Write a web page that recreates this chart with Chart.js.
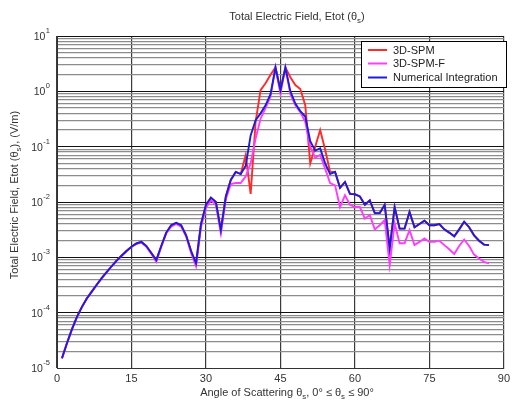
<!DOCTYPE html>
<html>
<head>
<meta charset="utf-8">
<script src="https://cdn.jsdelivr.net/npm/chart.js@4"></script>
<style>
  html, body { margin: 0; padding: 0; background: #fff; }
</style>
</head>
<body>
<canvas id="etotChart" width="514" height="403"></canvas>
<script>
/**
 * Total Electric Field vs scattering angle (log y)
 */

// angle of scattering, degrees
const angles = [
    1, 2, 3, 4, 5, 6, 7, 8, 9, 10, 11, 12, 13, 14, 15, 16, 17, 18, 19, 20,
    21, 22, 23, 24, 25, 26, 27, 28, 29, 30, 31, 32, 33, 34, 35, 36, 37, 38, 39, 40,
    41, 42, 43, 44, 45, 46, 47, 48, 49, 50, 51, 52, 53, 54, 55, 56, 57, 58, 59, 60,
    61, 62, 63, 64, 65, 66, 67, 68, 69, 70, 71, 72, 73, 74, 75, 76, 77, 78, 79, 80,
    81, 82, 83, 84, 85, 86, 87
];

// 3D-SPM (V/m)
const spm = [
    1.5e-5, 2.8e-5, 5.0e-5, 8.3e-5, 1.26e-4, 1.8e-4, 2.4e-4, 3.2e-4, 4.2e-4, 5.4e-4,
    6.9e-4, 8.7e-4, 1.07e-3, 1.3e-3, 1.55e-3, 1.78e-3, 1.9e-3, 1.6e-3, 1.2e-3, 8.9e-4,
    1.6e-3, 2.8e-3, 3.8e-3, 4.2e-3, 3.8e-3, 2.5e-3, 1.3e-3, 7.8e-4, 4.0e-3, 8.9e-3,
    0.012, 0.010, 0.0031, 0.0126, 0.025, 0.035, 0.032, 0.07, 0.014, 0.28,
    1.05, 1.4, 2.0, 2.7, 1.05, 2.7, 1.8, 1.3, 1.1, 0.56,
    0.05, 0.1, 0.2, 0.089, 0.035, 0.035, 0.018, 0.023, 0.014, 0.0138,
    0.0126, 0.0089, 0.0107, 0.0063, 0.0063, 0.0089, 0.00145, 0.0081, 0.0033, 0.0033,
    0.0066, 0.0035, 0.004, 0.0046, 0.0038, 0.0038, 0.004, 0.0032, 0.0028, 0.0024,
    0.0032, 0.0044, 0.0035, 0.0025, 0.002, 0.0017, 0.00166
];

// 3D-SPM-F (V/m)
const spmF = [
    1.5e-5, 2.8e-5, 5.0e-5, 8.3e-5, 1.26e-4, 1.8e-4, 2.4e-4, 3.2e-4, 4.2e-4, 5.4e-4,
    6.9e-4, 8.7e-4, 1.07e-3, 1.3e-3, 1.55e-3, 1.75e-3, 1.85e-3, 1.55e-3, 1.15e-3, 8.3e-4,
    1.55e-3, 2.7e-3, 3.6e-3, 4.0e-3, 3.6e-3, 2.4e-3, 1.2e-3, 6.9e-4, 3.5e-3, 7.9e-3,
    0.0107, 0.0089, 0.0027, 0.0112, 0.021, 0.022, 0.022, 0.029, 0.05, 0.14,
    0.32, 0.5, 0.8, 2.7, 0.91, 2.7, 0.89, 0.56, 0.42, 0.28,
    0.1, 0.063, 0.071, 0.04, 0.022, 0.02, 0.0081, 0.0132, 0.0089, 0.0081,
    0.0081, 0.005, 0.0058, 0.0032, 0.0038, 0.0047, 0.00072, 0.0041, 0.0018, 0.0018,
    0.0031, 0.00166, 0.0019, 0.0022, 0.0019, 0.0019, 0.002, 0.00166, 0.0014, 0.00115,
    0.0016, 0.0021, 0.0016, 0.00112, 0.00095, 0.00083, 0.00078
];

// Numerical Integration (V/m)
const numInt = [
    1.5e-5, 2.8e-5, 5.0e-5, 8.3e-5, 1.26e-4, 1.8e-4, 2.4e-4, 3.2e-4, 4.2e-4, 5.4e-4,
    6.9e-4, 8.7e-4, 1.07e-3, 1.3e-3, 1.55e-3, 1.78e-3, 1.9e-3, 1.6e-3, 1.2e-3, 8.9e-4,
    1.6e-3, 2.8e-3, 3.8e-3, 4.2e-3, 3.8e-3, 2.5e-3, 1.3e-3, 7.8e-4, 4.0e-3, 8.9e-3,
    0.012, 0.010, 0.0031, 0.0126, 0.025, 0.035, 0.032, 0.045, 0.16, 0.30,
    0.40, 0.56, 0.89, 2.7, 1.05, 2.7, 1.0, 0.60, 0.44, 0.35,
    0.126, 0.085, 0.093, 0.05, 0.032, 0.035, 0.018, 0.023, 0.014, 0.0138,
    0.0126, 0.0089, 0.0107, 0.0063, 0.0063, 0.0089, 0.00145, 0.0081, 0.0033, 0.0033,
    0.0066, 0.0035, 0.004, 0.0046, 0.0038, 0.0038, 0.004, 0.0032, 0.0028, 0.0024,
    0.0032, 0.0044, 0.0035, 0.0025, 0.002, 0.0017, 0.00166
];

const seriesNames = ['3D-SPM', '3D-SPM-F', 'Numerical Integration'];
const seriesColors = ['#ff2a2a', '#ff3cff', '#1c1cdc'];

// x ticks every 15 deg, y decades 1e-5 .. 1e1
const xTicks = [0, 15, 30, 45, 60, 75, 90];
const yExps = [-5, -4, -3, -2, -1, 0, 1];

const FONT = '"Liberation Sans", Arial, sans-serif';
const TEXT = '#333';

// y gridlines: every 1..9 x decade (log minor grid)
const yGridValues = [];
yExps.forEach(e => {
    if (e === 1) { yGridValues.push(10); return; }
    for (let m = 1; m <= 9; m++) yGridValues.push(m * Math.pow(10, e));
});

function isDecade(v) {
    const l = Math.log10(v);
    return Math.abs(l - Math.round(l)) < 1e-6;
}

// draw a string made of [text, 'sub'|'sup'|undefined] parts, centred on x
function drawRich(ctx, parts, x, y, size) {
    const small = size * 0.72;
    let w = 0;
    parts.forEach(p => {
        ctx.font = (p[1] ? small : size) + 'px ' + FONT;
        w += ctx.measureText(p[0]).width;
    });
    let cx = x - w / 2;
    ctx.textAlign = 'left';
    ctx.textBaseline = 'middle';
    parts.forEach(p => {
        ctx.font = (p[1] ? small : size) + 'px ' + FONT;
        const dy = p[1] === 'sub' ? size * 0.35 : (p[1] === 'sup' ? -size * 0.45 : 0);
        ctx.fillText(p[0], cx, y + dy);
        cx += ctx.measureText(p[0]).width;
    });
}

const decorPlugin = {
    id: 'decor',
    afterDraw(chart) {
        const ctx = chart.ctx;
        const y = chart.scales.y;
        ctx.save();
        ctx.fillStyle = TEXT;

        // y tick labels 10^n
        yExps.forEach(e => {
            const py = y.getPixelForValue(Math.pow(10, e));
            const right = 50;
            ctx.font = '7.5px ' + FONT;
            const ew = ctx.measureText(String(e)).width;
            ctx.textBaseline = 'middle';
            ctx.textAlign = 'left';
            ctx.fillText(String(e), right - ew, py - 5);
            ctx.font = '10.5px ' + FONT;
            ctx.textAlign = 'right';
            ctx.fillText('10', right - ew - 0.5, py + 1);
        });

        // title
        drawRich(ctx, [['Total Electric Field, Etot (\u03b8'], ['s', 'sub'], [')']], 297, 17, 11);
        // x label
        drawRich(ctx, [['Angle of Scattering \u03b8'], ['s', 'sub'], [', 0\u00b0 \u2264 \u03b8'], ['s', 'sub'], [' \u2264 90\u00b0']], 287, 393, 11);
        // y label
        ctx.save();
        ctx.translate(15, 195);
        ctx.rotate(-Math.PI / 2);
        drawRich(ctx, [['Total Electric Field, Etot (\u03b8'], ['s', 'sub'], ['), (V/m)']], 0, 0, 11);
        ctx.restore();

        // legend box
        const lx = 361.5, ly = 41.5, lw = 145, lh = 46;
        ctx.fillStyle = '#fff';
        ctx.fillRect(lx, ly, lw, lh);
        ctx.strokeStyle = '#000';
        ctx.lineWidth = 1;
        ctx.strokeRect(lx, ly, lw, lh);
        const rows = [50, 63.5, 77.5];
        seriesNames.forEach((name, i) => {
            ctx.strokeStyle = seriesColors[i];
            ctx.lineWidth = 2;
            ctx.beginPath();
            ctx.moveTo(368, rows[i]);
            ctx.lineTo(387, rows[i]);
            ctx.stroke();
            ctx.fillStyle = '#222';
            ctx.font = '11px ' + FONT;
            ctx.textAlign = 'left';
            ctx.textBaseline = 'middle';
            ctx.fillText(name, 393, rows[i] + 0.5);
        });
        ctx.restore();
    }
};

const seriesValues = [spm, spmF, numInt];

new Chart(document.getElementById('etotChart'), {
    type: 'line',
    data: {
        datasets: seriesValues.map((vals, i) => ({
            label: seriesNames[i],
            data: angles.map((a, k) => ({ x: a, y: vals[k] })),
            borderColor: seriesColors[i],
            borderWidth: 1.9,
            pointRadius: 0,
            tension: 0,
            fill: false,
            order: 2 - i // blue drawn on top
        }))
    },
    options: {
        responsive: false,
        animation: false,
        layout: { padding: { top: 36, right: 7, bottom: 0, left: 0 } },
        plugins: {
            legend: { display: false },
            tooltip: { enabled: false },
            title: { display: false }
        },
        scales: {
            x: {
                type: 'linear',
                min: 0,
                max: 90,
                afterBuildTicks: scale => { scale.ticks = xTicks.map(v => ({ value: v })); },
                afterFit: scale => { scale.height = 35; },
                ticks: {
                    font: { family: FONT, size: 11 },
                    color: TEXT,
                    padding: 4,
                    maxRotation: 0
                },
                grid: { color: '#3a3a3a', lineWidth: 1.2, drawTicks: false },
                border: { color: '#333' }
            },
            y: {
                type: 'logarithmic',
                min: 1e-5,
                max: 10,
                afterBuildTicks: scale => { scale.ticks = yGridValues.map(v => ({ value: v })); },
                afterFit: scale => { scale.width = 57; },
                ticks: { display: false },
                grid: {
                    drawTicks: false,
                    color: ctx => (ctx.tick && isDecade(ctx.tick.value)) ? '#111' : '#8c8c8c',
                    lineWidth: ctx => (ctx.tick && isDecade(ctx.tick.value)) ? 1 : 1.3
                },
                border: { color: '#333' }
            }
        }
    },
    plugins: [decorPlugin]
});
</script>
</body>
</html>
